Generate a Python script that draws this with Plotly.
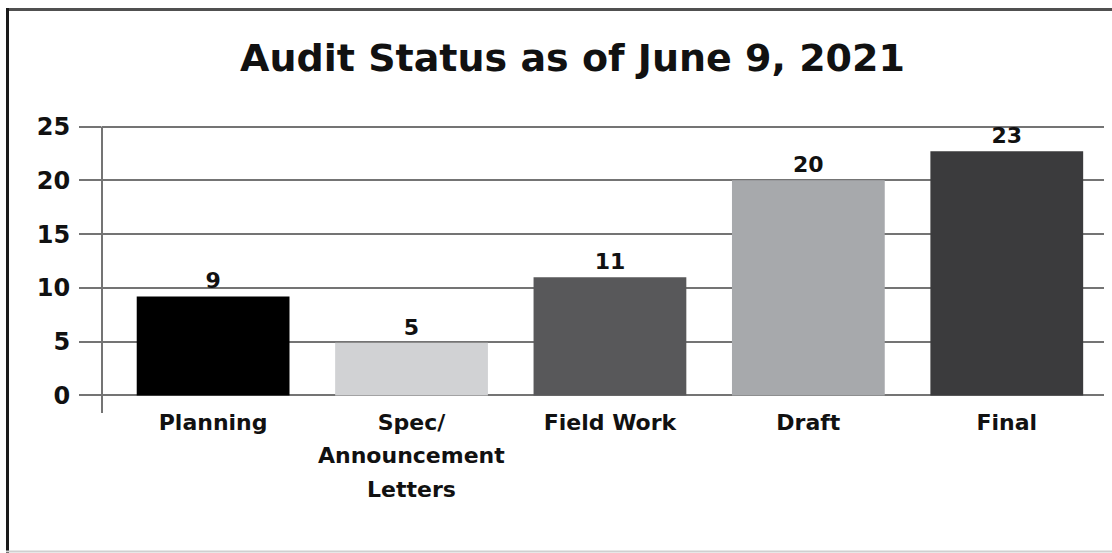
import plotly.graph_objects as go

categories = ["Planning", "Spec/<br>Announcement<br>Letters", "Field Work", "Draft", "Final"]
bar_heights = [9.2, 4.9, 11.0, 20.0, 22.7]
value_labels = ["9", "5", "11", "20", "23"]
bar_colors = ["#000000", "#d1d2d4", "#58585a", "#a7a9ac", "#3b3b3d"]
y_ticks = [0, 5, 10, 15, 20, 25]
title_text = "Audit Status as of June 9, 2021"

FONT = "DejaVu Sans"
GRID = "#747474"
TXT = "#111111"

W, H = 1112, 553
L, R, T, B = 102, 8, 125, 156
PW, PH = W - L - R, H - T - B


def px(x):
    return (x - L) / PW


def py(y):
    return (H - B - y) / PH


x_idx = list(range(len(categories)))
label_lines = [c.split("<br>") for c in categories]
first_lines = [ln[0] for ln in label_lines]

fig = go.Figure(
    go.Bar(
        x=x_idx,
        y=bar_heights,
        marker=dict(color=bar_colors, line=dict(width=0)),
        width=0.77,
        text=value_labels,
        textposition="outside",
        textfont=dict(family=FONT, size=22, color=TXT, weight="bold"),
        cliponaxis=False,
        hoverinfo="skip",
    )
)

shapes = [
    # frame: top, left, bottom
    dict(type="line", xref="paper", yref="paper", x0=px(6), x1=px(1112), y0=py(9.5), y1=py(9.5),
         line=dict(color="#505050", width=3)),
    dict(type="line", xref="paper", yref="paper", x0=px(7.5), x1=px(7.5), y0=py(8), y1=py(553),
         line=dict(color="#1a1a1a", width=3)),
    dict(type="line", xref="paper", yref="paper", x0=px(6), x1=px(1112), y0=py(551.5), y1=py(551.5),
         line=dict(color="#d0d0d0", width=2)),
    # vertical axis line extending below zero
    dict(type="line", xref="paper", yref="paper", x0=0, x1=0, y0=py(413), y1=py(126.6),
         line=dict(color=GRID, width=2)),
]

# extra lines of multi-line category labels (wider line spacing than tick labels allow)
annotations = []
for i, lines in enumerate(label_lines):
    for k, line in enumerate(lines[1:], start=1):
        annotations.append(dict(
            x=x_idx[i], xref="x", y=py(422 + 33.5 * k), yref="paper",
            text=line, showarrow=False, xanchor="center", yanchor="middle",
            font=dict(family=FONT, size=22, color=TXT, weight="bold"),
        ))

fig.update_layout(
    width=W,
    height=H,
    margin=dict(l=L, r=R, t=T, b=B),
    paper_bgcolor="white",
    plot_bgcolor="white",
    showlegend=False,
    title=dict(
        text=title_text,
        x=(237 + 908) / 2 / W,
        xanchor="center",
        y=1 - 58 / H,
        yanchor="middle",
        yref="container",
        font=dict(family=FONT, size=38, color=TXT, weight="bold"),
    ),
    xaxis=dict(
        range=[-0.56, 4.49],
        tickmode="array",
        tickvals=x_idx,
        ticktext=first_lines,
        showgrid=False,
        zeroline=False,
        showline=False,
        ticks="outside",
        ticklen=6,
        tickcolor="rgba(0,0,0,0)",
        tickfont=dict(family=FONT, size=22, color=TXT, weight="bold"),
        fixedrange=True,
    ),
    yaxis=dict(
        range=[-0.15, 25.15],
        tickmode="array",
        tickvals=y_ticks,
        showgrid=True,
        gridcolor=GRID,
        gridwidth=2,
        zeroline=False,
        showline=False,
        ticks="outside",
        ticklen=22,
        tickwidth=2,
        tickcolor=GRID,
        ticklabelstandoff=4,
        tickfont=dict(family=FONT, size=24, color=TXT, weight="bold"),
        fixedrange=True,
    ),
    shapes=shapes,
    annotations=annotations,
)

fig.write_html(
    "out.html",
    config={"displayModeBar": False},
    post_script="document.body.style.margin='0';document.body.style.padding='0';",
)
